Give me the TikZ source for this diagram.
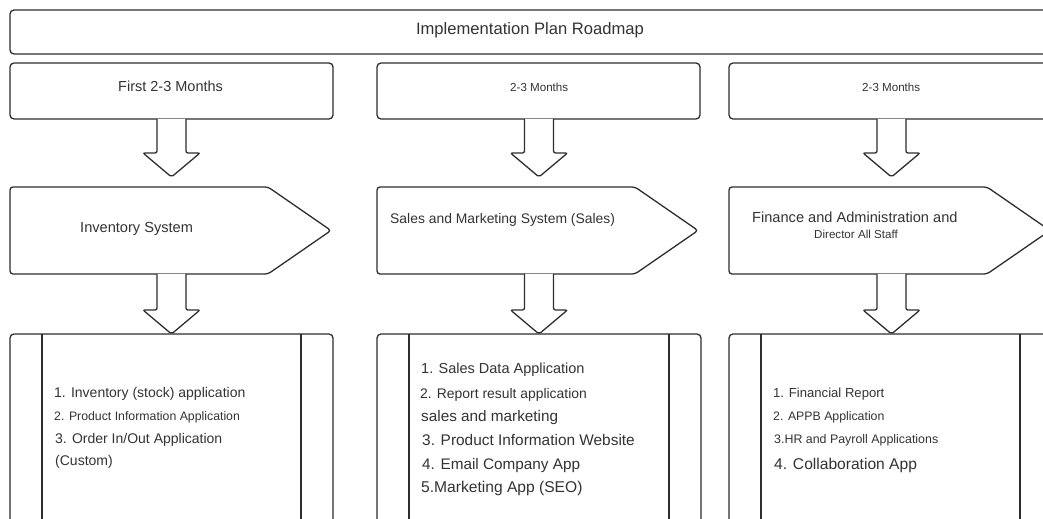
\documentclass[tikz,border=0pt]{standalone}
\usepackage{fontspec}
\setmainfont{Liberation Sans}
\usetikzlibrary{calc}
\definecolor{ink}{HTML}{333333}
\definecolor{edge}{HTML}{2E2E2E}
\tikzset{
  box/.style={draw=edge, line width=1.3bp, rounded corners=4bp, inner sep=0pt, outer sep=0pt},
  blk/.style={draw=edge, line width=1.3bp, rounded corners=2bp, fill=white},
  chev/.style={draw=edge, line width=1.3bp, rounded corners=3bp},
  rule/.style={draw=edge, line width=1.3bp},
  txt/.style={text=ink, inner sep=0pt, anchor=base west},
}
\newcommand\fs[1]{\fontsize{#1bp}{#1bp}\selectfont}
\newcommand\blockarrow[2]{%
  \draw[blk] ($(#1)+(-14.5,0)$) -- ($(#2)+(-14.5,-24)$) -- ($(#2)+(-28.5,-24)$)
    -- (#2) -- ($(#2)+(28.5,-24)$) -- ($(#2)+(14.5,-24)$) -- ($(#1)+(14.5,0)$);
}
\newcommand\chevron[2]{% name, left x
  \coordinate (#1-nw) at (#2,187);
  \coordinate (#1-ne) at (#2+258,187);
  \coordinate (#1-tip) at (#2+321,230.5);
  \coordinate (#1-se) at (#2+258,274);
  \coordinate (#1-sw) at (#2,274);
  \draw[chev] (#1-nw) -- (#1-ne) -- (#1-tip) -- (#1-se) -- (#1-sw) -- cycle;
}
\begin{document}
\begin{tikzpicture}[x=1bp,y=-1bp]
\useasboundingbox (0,0) rectangle (1043,519);
\clip (0,0) rectangle (1043,519);
\fill[white] (0,0) rectangle (1043,519);

% title
\node[box, minimum width=1045bp, minimum height=44bp, anchor=north west] (title) at (10,10) {};
\node[txt, anchor=base, font=\fs{16.6}] (titletext) at (530,35) {Implementation Plan Roadmap};

% phase boxes
\node[box, minimum width=323bp, minimum height=56bp, anchor=north west] (p1) at (10,63) {};
\node[box, minimum width=323bp, minimum height=56bp, anchor=north west] (p2) at (377,63) {};
\node[box, minimum width=323bp, minimum height=56bp, anchor=north west] (p3) at (729,63) {};
\node[txt, font=\fs{14.5}] (p1t) at (118,92) {First 2-3 Months};
\node[txt, font=\fs{11.6}] (p2t) at (510,92) {2-3 Months};
\node[txt, font=\fs{11.6}] (p3t) at (862,92) {2-3 Months};

% chevrons
\chevron{c1}{10}
\chevron{c2}{377}
\chevron{c3}{729}
\node[txt, font=\fs{14.6}] (c1t) at (80,233) {Inventory System};
\node[txt, font=\fs{13.9}] (c2t) at (390,224) {Sales and Marketing System (Sales)};
\node[txt, font=\fs{14.6}] (c3t) at (752,223) {Finance and Administration and};
\node[txt, font=\fs{11.6}] (c3u) at (814,239) {Director All Staff};

% list boxes
\node[box, minimum width=323bp, minimum height=230bp, anchor=north west] (l1) at (10,334) {};
\node[box, minimum width=324bp, minimum height=230bp, anchor=north west] (l2) at (377,334) {};
\node[box, minimum width=323bp, minimum height=230bp, anchor=north west] (l3) at (729,334) {};
\foreach \b in {l1,l2,l3}{
  \draw[rule] ([xshift=32bp]\b.north west) -- ([xshift=32bp]\b.south west);
  \draw[rule] ([xshift=-32bp]\b.north east) -- ([xshift=-32bp]\b.south east);
}

% arrow anchors
\coordinate (a1s) at (171.5,119); \coordinate (a1t) at (171.5,177);
\coordinate (a2s) at (539,119);   \coordinate (a2t) at (539,177);
\coordinate (a3s) at (891.5,119); \coordinate (a3t) at (891.5,177);
\coordinate (b1s) at (171.5,274); \coordinate (b1t) at (171.5,334);
\coordinate (b2s) at (539,274);   \coordinate (b2t) at (539,334);
\coordinate (b3s) at (891.5,274); \coordinate (b3t) at (891.5,334);
\blockarrow{a1s}{a1t}
\blockarrow{a2s}{a2t}
\blockarrow{a3s}{a3t}
\blockarrow{b1s}{b1t}
\blockarrow{b2s}{b2t}
\blockarrow{b3s}{b3t}

% list 1
\node[txt, font=\fs{14}] (l1a) at (54,397) {1. Inventory (stock) application};
\node[txt, font=\fs{12.3}] (l1b) at (54,420) {2. Product Information Application};
\node[txt, font=\fs{14}] (l1c) at (55,443) {3. Order In/Out Application};
\node[txt, font=\fs{14}] (l1d) at (55,465) {(Custom)};

% list 2
\node[txt, font=\fs{14.5}] (l2a) at (421,374) {1. Sales Data Application};
\node[txt, font=\fs{13.9}] (l2b) at (420,398) {2. Report result application};
\node[txt, font=\fs{15.3}] (l2c) at (421,421) {sales and marketing};
\node[txt, font=\fs{15.4}] (l2d) at (422,445) {3. Product Information Website};
\node[txt, font=\fs{15.3}] (l2e) at (422,469) {4. Email Company App};
\node[txt, font=\fs{15.6}] (l2f) at (421,492) {5.Marketing App (SEO)};

% list 3
\node[txt, font=\fs{13.1}] (l3a) at (773,397) {1. Financial Report};
\node[txt, font=\fs{12.3}] (l3b) at (773,420) {2. APPB Application};
\node[txt, font=\fs{12.4}] (l3c) at (774,443) {3.HR and Payroll Applications};
\node[txt, font=\fs{15.6}] (l3d) at (774,469) {4. Collaboration App};
\end{tikzpicture}
\end{document}
